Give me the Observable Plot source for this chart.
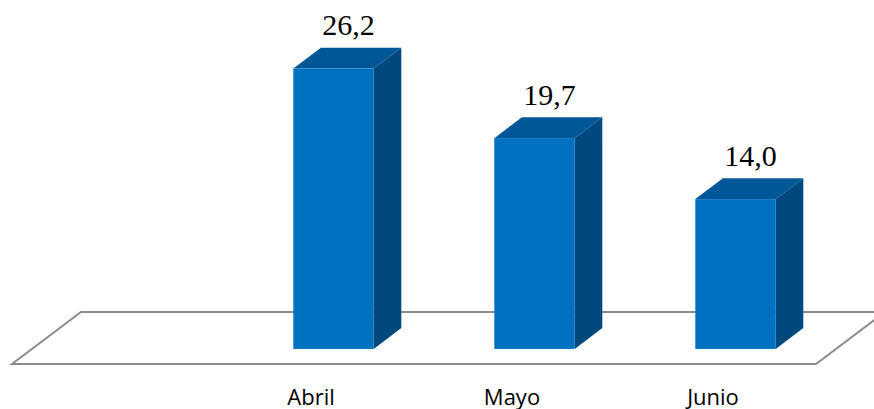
<!DOCTYPE html>
<html><head><meta charset="utf-8">
<script src="https://cdn.jsdelivr.net/npm/d3@7"></script>
<script src="https://cdn.jsdelivr.net/npm/@observablehq/plot@0.6"></script>
<style>html,body{margin:0;padding:0;background:#fff} svg{display:block}</style>
</head><body><div id="chart"></div>
<script>
const categories = ["Abril", "Mayo", "Junio"];
const values = [26.2, 19.7, 14.0];
const slots = [" ", ...categories]; // the floor has an empty leading slot

const data = categories.map((c, i) => ({
  month: c,
  value: values[i],
  label: values[i].toFixed(1).replace(".", ",")
}));

// 3D styling (pixels / fractions)
const DEPTH_X = 69, DEPTH_Y = 52;     // floor depth projection
const BAR_D0 = 0.29, BAR_D1 = 0.69;   // bar's front/back depth fraction
const BAR_W = 0.4;                    // bar width as a fraction of the slot
const COL = {front: "#0070C0", side: "#00487E", top: "#005798", floor: "#8C8C8C"};

function floorMark(index, scales) {
  const x = scales.x, y = scales.y;
  const [x0, x1] = x.range();
  const y0 = y(0);
  const g = d3.create("svg:g");
  g.append("path")
    .attr("d", `M${x0},${y0}L${x1},${y0}L${x1 + DEPTH_X},${y0 - DEPTH_Y}L${x0 + DEPTH_X},${y0 - DEPTH_Y}Z`)
    .attr("fill", "none")
    .attr("stroke", COL.floor)
    .attr("stroke-width", 2)
    .attr("stroke-linejoin", "miter");
  return g.node();
}

function barsMark(index, scales) {
  const x = scales.x, y = scales.y;
  const bw = x.bandwidth();
  const w = bw * BAR_W;
  const ox = BAR_D0 * DEPTH_X, oy = BAR_D0 * DEPTH_Y;
  const ddx = (BAR_D1 - BAR_D0) * DEPTH_X, ddy = (BAR_D1 - BAR_D0) * DEPTH_Y;
  const g = d3.create("svg:g");
  for (const d of data) {
    const bx = x(d.month) + bw * (1 - BAR_W) / 2 + ox;
    const yb = y(0) - oy, yt = y(d.value) - oy;
    g.append("path")
      .attr("d", `M${bx + w},${yb}L${bx + w},${yt}L${bx + w + ddx},${yt - ddy}L${bx + w + ddx},${yb - ddy}Z`)
      .attr("fill", COL.side);
    g.append("path")
      .attr("d", `M${bx},${yt}L${bx + w},${yt}L${bx + w + ddx},${yt - ddy}L${bx + ddx},${yt - ddy}Z`)
      .attr("fill", COL.top);
    g.append("rect")
      .attr("x", bx).attr("y", yt)
      .attr("width", w).attr("height", yb - yt)
      .attr("fill", COL.front);
  }
  return g.node();
}

const chart = Plot.plot({
  width: 874,
  height: 409,
  marginLeft: 12,
  marginRight: 58,
  marginTop: 43,
  marginBottom: 45,
  x: {type: "band", domain: slots, padding: 0, axis: null},
  y: {domain: [0, 30], axis: null},
  style: {background: "#fff"},
  marks: [
    floorMark,
    barsMark,
    Plot.text(data, {
      x: "month", y: "value", text: "label",
      dx: DEPTH_X / 2, dy: -(BAR_D0 * DEPTH_Y + 34),
      lineAnchor: "bottom",
      fontSize: 30, fontFamily: "Liberation Serif, Times New Roman, serif", fill: "#000"
    }),
    Plot.text(data, {
      x: "month", y: () => 0, text: "month",
      dx: -3, dy: 40,
      lineAnchor: "bottom",
      fontSize: 22, fontFamily: "Open Sans, sans-serif", fill: "#000"
    })
  ]
});
document.getElementById("chart").appendChild(chart);
</script>
</body></html>
